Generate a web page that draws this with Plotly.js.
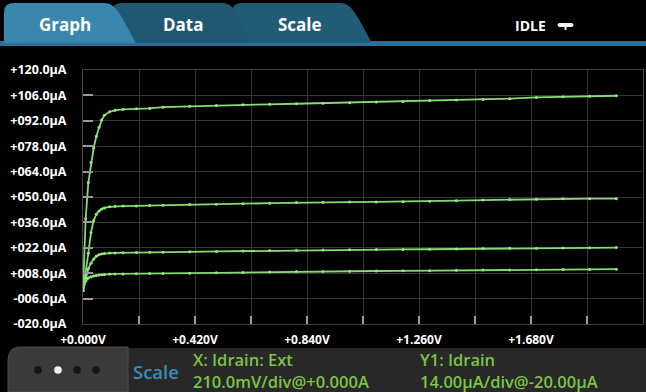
<!DOCTYPE html>
<html>
<head>
<meta charset="utf-8">
<script src="https://cdn.plot.ly/plotly-3.0.1.min.js"></script>
<style>
  html, body { margin: 0; padding: 0; background: #000; }
  #chart { width: 646px; height: 392px; }
</style>
</head>
<body>
<div id="chart"></div>
<script>
// Drain voltage sweep (V)
const vds = [0, 0.01, 0.02, 0.03, 0.04, 0.05, 0.06, 0.07, 0.08, 0.10, 0.12, 0.15, 0.20, 0.25, 0.30, 0.40,
             0.50, 0.60, 0.70, 0.80, 0.90, 1.00, 1.10, 1.20, 1.30, 1.40, 1.50, 1.60, 1.70, 1.80, 1.90, 2.00];
// Drain current (µA) for the four gate steps
const idrainStep4 = [-1.5, 38, 58, 69, 77, 83.5, 88.5, 92.5, 95, 97, 97.8, 98.3, 98.6, 98.8, 99.5, 100.0,
                     100.5, 100.8, 101.1, 101.4, 101.7, 102.0, 102.3, 102.6, 103.2, 103.4, 103.7, 104.2, 104.9, 105.3, 105.6, 105.8];
const idrainStep3 = [-1.5, 8, 19, 30.5, 37, 40.5, 42.3, 43.4, 44.0, 44.6, 44.9, 45.0, 45.1, 45.3, 45.5, 45.8,
                     46.0, 46.3, 46.6, 46.9, 47.1, 47.2, 47.3, 47.4, 47.7, 48.0, 48.3, 48.6, 48.8, 49.0, 49.1, 49.1];
const idrainStep2 = [-1.5, 5.5, 10.5, 13.5, 15.8, 17.3, 18.2, 18.6, 18.9, 19.1, 19.2, 19.3, 19.4, 19.5, 19.6, 19.8,
                     20.0, 20.2, 20.5, 20.7, 20.8, 20.9, 21.0, 21.1, 21.2, 21.4, 21.6, 21.7, 21.8, 21.9, 22.0, 22.1];
const idrainStep1 = [-1.5, 3.5, 5.4, 6.1, 6.5, 6.8, 7.0, 7.2, 7.3, 7.5, 7.6, 7.6, 7.7, 7.8, 7.9, 8.0,
                     8.2, 8.4, 8.7, 8.9, 9.0, 9.1, 9.2, 9.3, 9.4, 9.6, 9.7, 9.8, 9.9, 10.0, 10.1, 10.2];

// Axis ticks
const xTickVals = [0, 0.21, 0.42, 0.63, 0.84, 1.05, 1.26, 1.47, 1.68, 1.89, 2.10];
const xTickText = ["+0.000V", "", "+0.420V", "", "+0.840V", "", "+1.260V", "", "+1.680V", "", ""];
const yTickVals = [-20, -6, 8, 22, 36, 50, 64, 78, 92, 106, 120];
const yTickText = ["-020.0µA", "-006.0µA", "+008.0µA", "+022.0µA", "+036.0µA", "+050.0µA",
                   "+064.0µA", "+078.0µA", "+092.0µA", "+106.0µA", "+120.0µA"];

// UI texts
const tabLabels = ["Graph", "Data", "Scale"];
const statusText = "IDLE";
const scaleLabel = "Scale";
const xScaleLines = ["X: Idrain: Ext", "210.0mV/div@+0.000A"];
const yScaleLines = ["Y1: Idrain", "14.00µA/div@-20.00µA"];

// ---- pixel helpers for chrome (plot area: x 83..643, y 70..324) ----
const L = 83, R = 3, T = 70, B = 68, W = 646, H = 392;
const pw = W - L - R, ph = H - T - B;
const X = px => (px - L) / pw;
const Y = py => (H - B - py) / ph;

const green = '#86dc72';
const series = [idrainStep1, idrainStep2, idrainStep3, idrainStep4];
const traces = series.map(s => ({
  x: vds, y: s, type: 'scatter', mode: 'lines+markers',
  line: {color: green, width: 1.8},
  marker: {color: '#95e880', size: 3},
  hoverinfo: 'skip', showlegend: false, cliponaxis: true
}));

function tabPath(x0, x1, x2) {
  return `M ${X(x0)},${Y(43)} L ${X(x0)},${Y(12)} Q ${X(x0)},${Y(3)} ${X(x0+10)},${Y(3)} ` +
         `L ${X(x1)},${Y(3)} C ${X(x1+12)},${Y(3)} ${X(x1+16)},${Y(14)} ${X(x2)},${Y(43)} Z`;
}

const shapes = [
  {type:'rect', xref:'paper', yref:'paper', x0:X(0), x1:X(646), y0:Y(46), y1:Y(41),
   fillcolor:'#2b7199', line:{width:0}, layer:'above'},
  {type:'path', xref:'paper', yref:'paper', path: tabPath(232, 340, 372),
   fillcolor:'#215c76', line:{width:0}, layer:'above'},
  {type:'path', xref:'paper', yref:'paper', path: tabPath(112, 222, 252),
   fillcolor:'#1f5870', line:{width:0}, layer:'above'},
  {type:'path', xref:'paper', yref:'paper', path: tabPath(4, 104, 136),
   fillcolor:'#3a87ae', line:{width:0}, layer:'above'},
  // IDLE icon
  {type:'path', xref:'paper', yref:'paper',
   path:`M ${X(559)},${Y(23)} L ${X(572)},${Y(23)} Q ${X(575)},${Y(25)} ${X(572)},${Y(27)} L ${X(559)},${Y(27)} Q ${X(556)},${Y(25)} ${X(559)},${Y(23)} Z`,
   fillcolor:'#f2f2f2', line:{width:0}, layer:'above'},
  {type:'rect', xref:'paper', yref:'paper', x0:X(564.5), x1:X(566.5), y0:Y(30), y1:Y(26.5),
   fillcolor:'#f2f2f2', line:{width:0}, layer:'above'},
  // bottom panel background
  {type:'rect', xref:'paper', yref:'paper', x0:X(120), x1:X(646), y0:Y(392), y1:Y(348),
   fillcolor:'#282828', line:{width:0}, layer:'above'},
  // bottom-left swipe box
  {type:'path', xref:'paper', yref:'paper',
   path:`M ${X(8)},${Y(392)} L ${X(8)},${Y(360)} Q ${X(8)},${Y(347)} ${X(21)},${Y(347)} L ${X(128)},${Y(347)} L ${X(128)},${Y(392)} Z`,
   fillcolor:'#3a3a3a', line:{color:'#4c4c4c', width:1}, layer:'above'}
];
[[38,'#151515'],[58,'#f4f4f4'],[77,'#151515'],[96,'#151515']].forEach(([cx, c]) => {
  shapes.push({type:'circle', xref:'paper', yref:'paper', x0:X(cx-3.8), x1:X(cx+3.8), y0:Y(373.8), y1:Y(366.2),
               fillcolor:c, line:{width:0}, layer:'above'});
});

const ann = (text, px, py, opts) => Object.assign({
  text, x: X(px), y: Y(py), xref:'paper', yref:'paper', showarrow:false,
  xanchor:'left', yanchor:'middle'
}, opts);

const tabFont = {family:'Open Sans', size:17, color:'#ffffff', weight:'bold'};
const infoFont = {family:'Open Sans', size:16.5, color:'#7cc445', weight:600};
const annotations = [
  ann(tabLabels[0], 65, 24, {xanchor:'center', font:tabFont}),
  ann(tabLabels[1], 183, 24, {xanchor:'center', font:tabFont}),
  ann(tabLabels[2], 300, 24, {xanchor:'center', font:tabFont}),
  ann(statusText, 530, 25, {xanchor:'center', font:{family:'Open Sans', size:14, color:'#ffffff', weight:'bold'}}),
  ann(scaleLabel, 156, 371, {xanchor:'center', font:{family:'Open Sans', size:18.5, color:'#3c8db4', weight:600}}),
  ann(xScaleLines[0], 191, 359, {font:infoFont}),
  ann(xScaleLines[1], 191, 381, {font:infoFont}),
  ann(yScaleLines[0], 418, 359, {font:infoFont}),
  ann(yScaleLines[1], 418, 381, {font:infoFont})
];

const layout = {
  width: W, height: H,
  margin: {l: L, r: R, t: T, b: B, pad: 0},
  paper_bgcolor: '#000', plot_bgcolor: '#000',
  showlegend: false,
  xaxis: {
    range: [0, 2.1], tickmode: 'array', tickvals: xTickVals, ticktext: xTickText,
    showgrid: true, gridcolor: '#363636', gridwidth: 1,
    zeroline: false, showline: true, linecolor: '#3e3e3e', linewidth: 1, mirror: true,
    ticks: 'inside', ticklen: 8, tickwidth: 1.5, tickcolor: '#a0a0a0',
    ticklabelstandoff: 5,
    tickfont: {family: 'Open Sans', size: 12, color: '#ffffff', weight: 'bold'},
    fixedrange: true
  },
  yaxis: {
    range: [-20, 120], tickmode: 'array', tickvals: yTickVals, ticktext: yTickText,
    showgrid: true, gridcolor: '#363636', gridwidth: 1,
    zeroline: false, showline: true, linecolor: '#4a4a4a', linewidth: 1, mirror: true,
    ticks: 'inside', ticklen: 10, tickwidth: 2, tickcolor: '#9a9a9a',
    ticklabelstandoff: 13,
    tickfont: {family: 'Open Sans', size: 12.5, color: '#ffffff', weight: 'bold'},
    fixedrange: true
  },
  shapes, annotations
};

Plotly.newPlot('chart', traces, layout, {staticPlot: true, displayModeBar: false});
</script>
</body>
</html>
